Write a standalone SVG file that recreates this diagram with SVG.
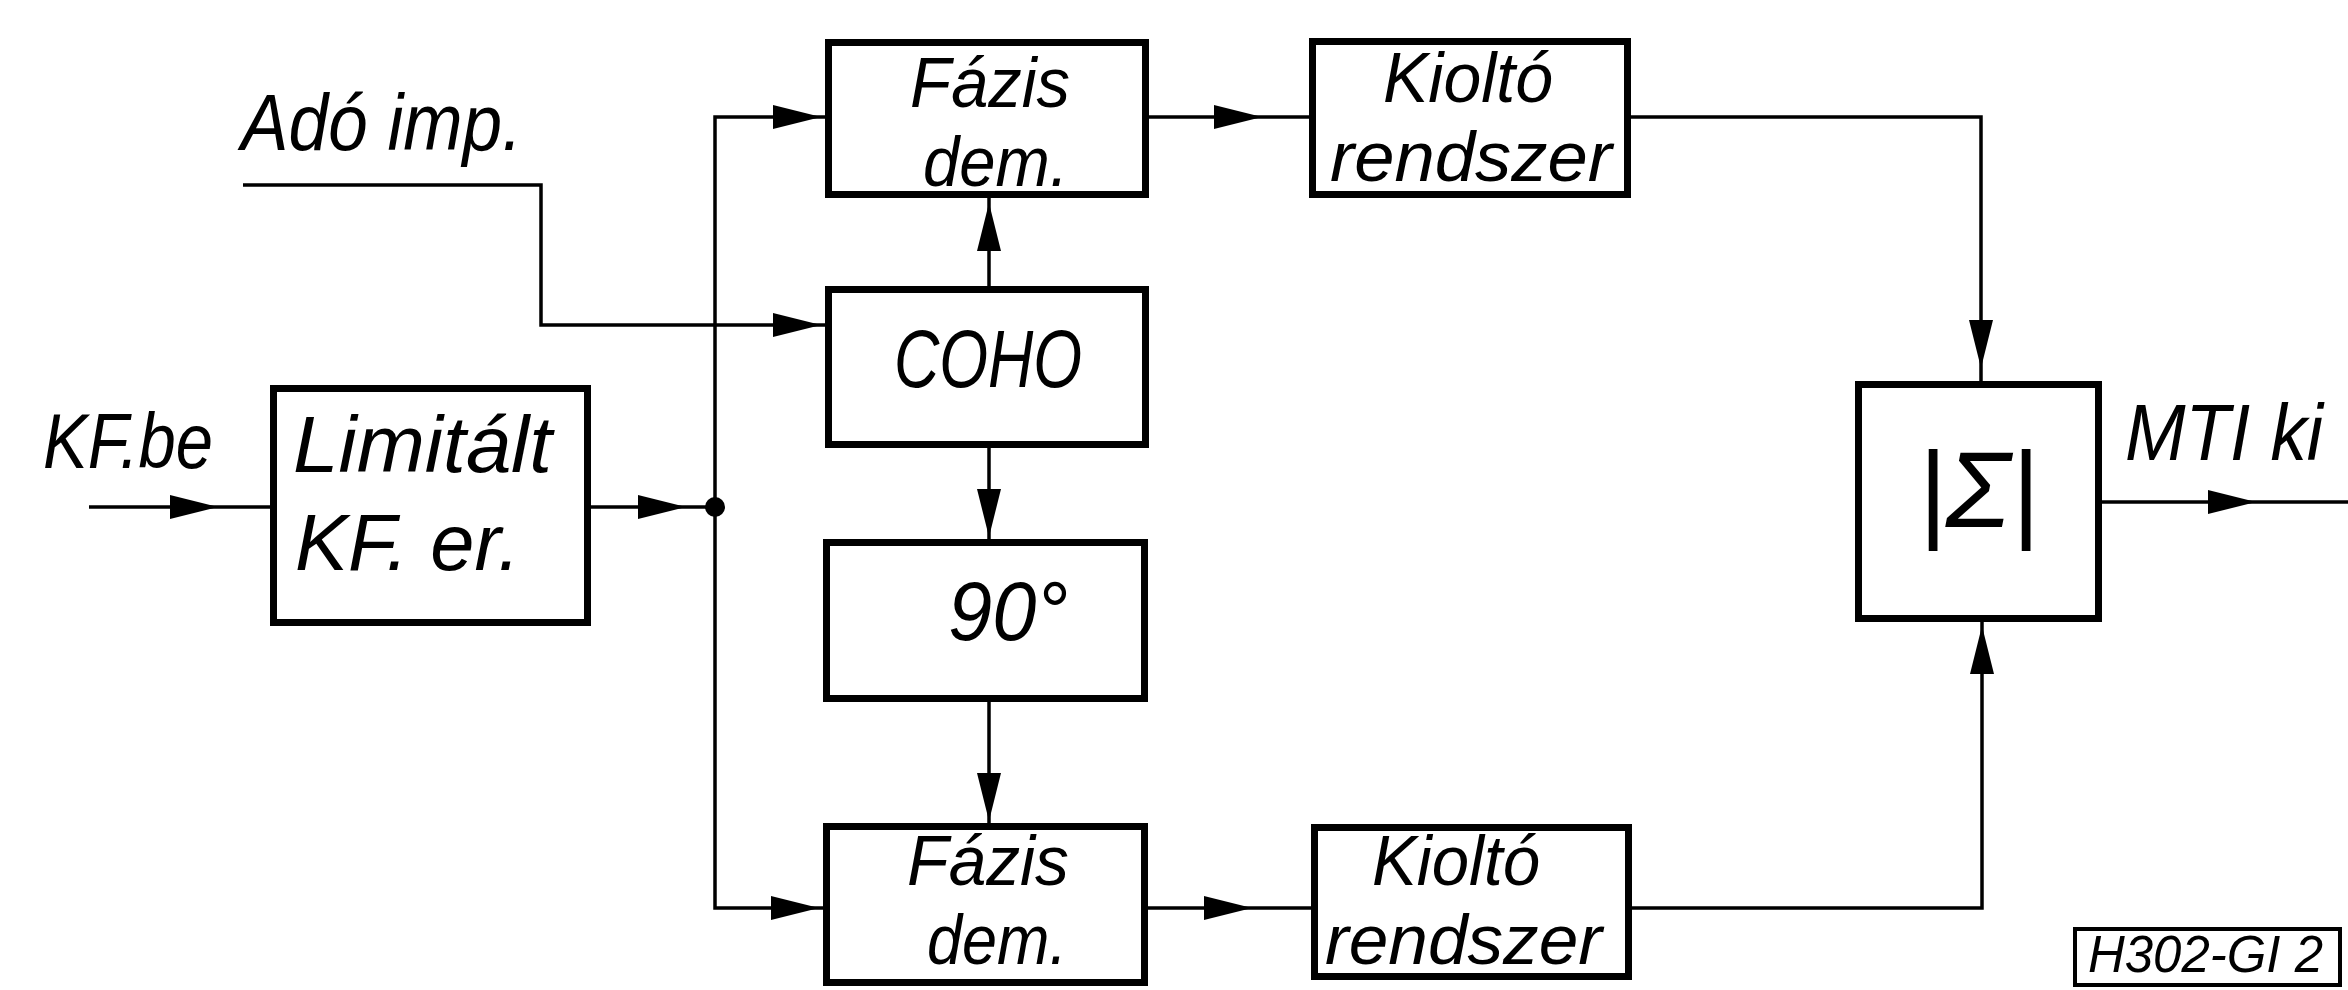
<svg xmlns="http://www.w3.org/2000/svg" width="2348" height="990" viewBox="0 0 2348 990">
  <defs>
    <style>
      .box { fill: #fff; stroke: #000; stroke-width: 7; }
      .tag { fill: #fff; stroke: #000; stroke-width: 4; }
      .wire { fill: none; stroke: #000; stroke-width: 3.5; stroke-linejoin: miter; }
      .lbl { font-family: "Liberation Sans", Arial, sans-serif; font-style: italic; fill: #000; }
    </style>
    <!-- filled arrowhead, tip at the origin, pointing along +x -->
    <path id="ah" d="M-48,-12 L0,0 L-48,12 Z" fill="#000"/>
  </defs>

  <rect width="2348" height="990" fill="#fff"/>

  <!-- connectors -->
  <g id="connectors">
    <!-- KF input -->
    <path class="wire" d="M89,507 H270"/>
    <use href="#ah" transform="translate(218,507)"/>
    <!-- limiter output to the distribution bus -->
    <path class="wire" d="M591,507 H715"/>
    <use href="#ah" transform="translate(686,507)"/>
    <circle cx="715" cy="507" r="10" fill="#000"/>
    <!-- distribution bus -->
    <path class="wire" d="M825,117 H715 V908 H823"/>
    <use href="#ah" transform="translate(821,117)"/>
    <use href="#ah" transform="translate(819,908)"/>
    <!-- transmitter pulse to COHO -->
    <path class="wire" d="M243,185 H541 V325 H825"/>
    <use href="#ah" transform="translate(821,325)"/>
    <!-- COHO up to the upper phase detector -->
    <path class="wire" d="M989,286 V198"/>
    <use href="#ah" transform="translate(989,203) rotate(-90)"/>
    <!-- COHO down through the 90 degree shifter -->
    <path class="wire" d="M989,448 V539"/>
    <use href="#ah" transform="translate(989,537) rotate(90)"/>
    <path class="wire" d="M989,702 V823"/>
    <use href="#ah" transform="translate(989,821) rotate(90)"/>
    <!-- detectors to cancellers -->
    <path class="wire" d="M1149,117 H1309"/>
    <use href="#ah" transform="translate(1262,117)"/>
    <path class="wire" d="M1148,908 H1311"/>
    <use href="#ah" transform="translate(1252,908)"/>
    <!-- cancellers to the summing stage -->
    <path class="wire" d="M1631,117 H1981 V381"/>
    <use href="#ah" transform="translate(1981,368) rotate(90)"/>
    <path class="wire" d="M1632,908 H1982 V622"/>
    <use href="#ah" transform="translate(1982,626) rotate(-90)"/>
    <!-- MTI output -->
    <path class="wire" d="M2102,502 H2348"/>
    <use href="#ah" transform="translate(2256,502)"/>
  </g>

  <!-- free labels -->
  <g id="label-ado">
    <text class="lbl" x="241" y="150" font-size="80" textLength="281" lengthAdjust="spacingAndGlyphs">Adó imp.</text>
  </g>
  <g id="label-kfbe">
    <text class="lbl" x="43" y="468" font-size="77" textLength="170" lengthAdjust="spacingAndGlyphs">KF.be</text>
  </g>
  <g id="label-mti">
    <text class="lbl" x="2125" y="460" font-size="80" textLength="198" lengthAdjust="spacingAndGlyphs">MTI ki</text>
  </g>

  <!-- blocks -->
  <g id="limiter">
    <rect class="box" x="273.5" y="388.5" width="314" height="234"/>
    <text class="lbl" x="293" y="472" font-size="80" textLength="259" lengthAdjust="spacingAndGlyphs">Limitált</text>
    <text class="lbl" x="295" y="570" font-size="80" textLength="225" lengthAdjust="spacingAndGlyphs">KF. er.</text>
  </g>

  <g id="phase-det-1">
    <rect class="box" x="828.5" y="42.5" width="317" height="152"/>
    <text class="lbl" x="910" y="107" font-size="70" textLength="160" lengthAdjust="spacingAndGlyphs">Fázis</text>
    <text class="lbl" x="923" y="186" font-size="70" textLength="145" lengthAdjust="spacingAndGlyphs">dem.</text>
  </g>

  <g id="canceller-1">
    <rect class="box" x="1312.5" y="41.5" width="315" height="153"/>
    <text class="lbl" x="1383" y="102" font-size="70" textLength="170" lengthAdjust="spacingAndGlyphs">Kioltó</text>
    <text class="lbl" x="1330" y="181" font-size="70" textLength="282" lengthAdjust="spacingAndGlyphs">rendszer</text>
  </g>

  <g id="coho">
    <rect class="box" x="828.5" y="289.5" width="317" height="155"/>
    <text class="lbl" x="894" y="387" font-size="82" textLength="188" lengthAdjust="spacingAndGlyphs">COHO</text>
  </g>

  <g id="shift-90">
    <rect class="box" x="826.5" y="542.5" width="318" height="156"/>
    <text class="lbl" x="948" y="640" font-size="84" textLength="120" lengthAdjust="spacingAndGlyphs">90°</text>
  </g>

  <g id="phase-det-2">
    <rect class="box" x="826.5" y="826.5" width="318" height="156"/>
    <text class="lbl" x="907" y="885" font-size="70" textLength="162" lengthAdjust="spacingAndGlyphs">Fázis</text>
    <text class="lbl" x="927" y="964" font-size="70" textLength="140" lengthAdjust="spacingAndGlyphs">dem.</text>
  </g>

  <g id="canceller-2">
    <rect class="box" x="1314.5" y="827.5" width="314" height="149"/>
    <text class="lbl" x="1372" y="885" font-size="70" textLength="168" lengthAdjust="spacingAndGlyphs">Kioltó</text>
    <text class="lbl" x="1325" y="964" font-size="70" textLength="277" lengthAdjust="spacingAndGlyphs">rendszer</text>
  </g>

  <g id="summer">
    <rect class="box" x="1858.5" y="384.5" width="240" height="234"/>
    <text class="lbl" x="1978" y="527" text-anchor="middle" font-size="108">|Σ|</text>
  </g>

  <g id="drawing-number">
    <rect class="tag" x="2075" y="929" width="265" height="56"/>
    <text class="lbl" x="2088" y="972" font-size="52" textLength="235" lengthAdjust="spacingAndGlyphs">H302-GI 2</text>
  </g>
</svg>
